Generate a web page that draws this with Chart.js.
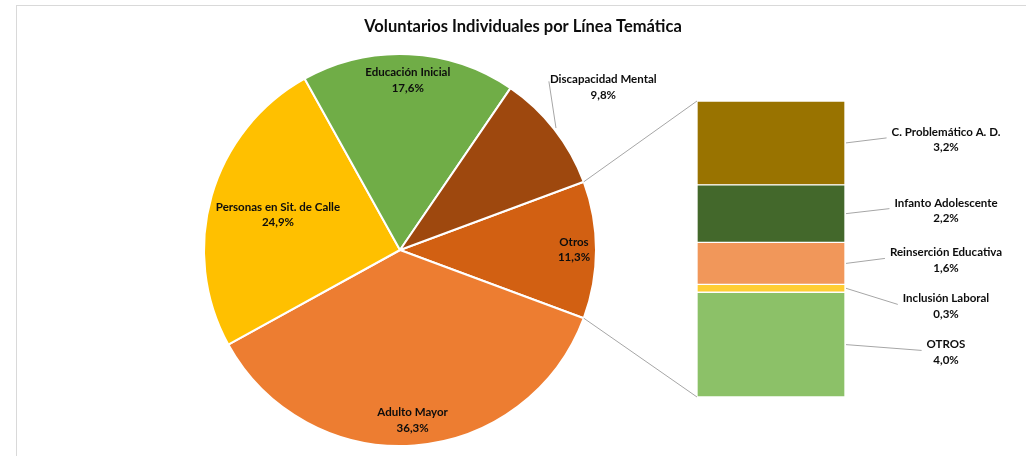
<!DOCTYPE html>
<html>
<head>
<meta charset="utf-8">
<script src="https://cdn.jsdelivr.net/npm/chart.js@4.4.0/dist/chart.umd.min.js"></script>
<style>
  html, body { margin: 0; padding: 0; background: #fff; }
  body { width: 1026px; height: 456px; position: relative; overflow: hidden; }
  #frame { position: absolute; left: 16px; top: 5px; width: 1040px; height: 480px; border: 1px solid #d9d9d9; }
  canvas { position: absolute; left: 0; top: 0; }
</style>
</head>
<body>
<div id="frame"></div>
<canvas id="pieChart" width="1026" height="456"></canvas>
<canvas id="barChart" width="1026" height="456"></canvas>
<script>
  let chartTitle = 'Voluntarios Individuales por Línea Temática';

  // pie, clockwise starting with the slice that is broken out into the bar
  let pieLabels = ['Otros', 'Adulto Mayor', 'Personas en Sit. de Calle', 'Educación Inicial', 'Discapacidad Mental'];
  let pieValues = [11.3, 36.3, 24.9, 17.6, 9.8];
  let pieColors = ['#D26012', '#ED7D31', '#FFC000', '#70AD47', '#9E480E'];

  // bar of "Otros", stacked bottom to top
  let barLabels = ['OTROS', 'Inclusión Laboral', 'Reinserción Educativa', 'Infanto Adolescente', 'C. Problemático A. D.'];
  let barValues = [4.0, 0.3, 1.6, 2.2, 3.2];
  let barColors = ['#8CC168', '#FFCD33', '#F1975A', '#43682B', '#997300'];

  let fontFamily = 'Lato, "Open Sans", sans-serif';
  let labelFont = 'bold 11.5px ' + fontFamily;
  let lineH = 15.5;
  let textColor = '#0d0d0d';
  let leaderColor = '#a6a6a6';

  function pct(v){
    return v.toFixed(1).replace('.', ',') + '%';
  }

  function drawLines(ctx, lines, cx, cy){
    lines.forEach((t, k) => ctx.fillText(t, cx, cy + (k - (lines.length - 1) / 2) * lineH));
  }

  /**************Pie: title, slice labels**************/
  let pieLabelPlugin = {
    id: 'pieLabels',
    afterDraw(chart){
      let ctx = chart.ctx;
      ctx.save();
      ctx.fillStyle = textColor;
      ctx.textAlign = 'center';
      ctx.textBaseline = 'middle';
      ctx.font = 'bold 16.5px ' + fontFamily;
      ctx.fillText(chartTitle, 523, 27);

      ctx.font = labelFont;
      let arcs = chart.getDatasetMeta(0).data;
      arcs.forEach((arc, i) => {
        let lines = [pieLabels[i], pct(pieValues[i])];
        let w = Math.max(...lines.map(t => ctx.measureText(t).width)) + 4;
        let h = lineH * lines.length;
        let mid = (arc.startAngle + arc.endAngle) / 2;
        let R = arc.outerRadius;
        let cx, cy;
        if (i == 4) {
          // small slice: label outside with a leader line
          cx = arc.x + Math.cos(mid) * (R + 62);
          cy = arc.y + Math.sin(mid) * (R + 62) - 4;
          ctx.strokeStyle = leaderColor;
          ctx.lineWidth = 1;
          ctx.beginPath();
          ctx.moveTo(arc.x + Math.cos(mid) * (R + 2), arc.y + Math.sin(mid) * (R + 2));
          ctx.lineTo(cx - w / 2 + 1, cy - lineH / 2 + 2);
          ctx.stroke();
        } else {
          // inside end: pull the label in until its box sits inside the circle
          for (let r = R; r > 0; r--) {
            cx = arc.x + Math.cos(mid) * r;
            cy = arc.y + Math.sin(mid) * r;
            let fits = [[-1,-1],[1,-1],[-1,1],[1,1]].every(([sx, sy]) =>
              Math.hypot(cx + sx * w / 2 - arc.x, cy + sy * h / 2 - arc.y) <= R - 3);
            if (fits) break;
          }
        }
        drawLines(ctx, lines, cx, cy);
      });
      ctx.restore();
    }
  };

  let pieTotal = pieValues.reduce((a, b) => a + b, 0);

  let pieChart = new Chart(document.getElementById('pieChart'), {
    type: 'pie',
    data: {
      labels: pieLabels,
      datasets: [{ data: pieValues, backgroundColor: pieColors, borderColor: '#fff', borderWidth: 2 }]
    },
    options: {
      responsive: false,
      animation: false,
      rotation: 90 - (pieValues[0] / pieTotal) * 180,
      radius: 196,
      layout: { padding: { left: 204, right: 430, top: 54, bottom: 10 } },
      plugins: { legend: { display: false }, tooltip: { enabled: false } }
    },
    plugins: [pieLabelPlugin]
  });

  /**************Bar: connectors and labels**************/
  let barLabelPlugin = {
    id: 'barLabels',
    afterDraw(chart){
      let ctx = chart.ctx;
      let els = chart.data.datasets.map((d, i) => chart.getDatasetMeta(i).data[0]);
      let left = els[0].x - els[0].width / 2;
      let right = els[0].x + els[0].width / 2;
      let top = els[els.length - 1].y;
      let bottom = els[0].base;

      ctx.save();
      ctx.strokeStyle = leaderColor;
      ctx.lineWidth = 1;

      // lines from the broken-out slice to the bar
      let arc = pieChart.getDatasetMeta(0).data[0];
      let R = arc.outerRadius;
      ctx.beginPath();
      ctx.moveTo(arc.x + Math.cos(arc.startAngle) * R, arc.y + Math.sin(arc.startAngle) * R);
      ctx.lineTo(left, top);
      ctx.moveTo(arc.x + Math.cos(arc.endAngle) * R, arc.y + Math.sin(arc.endAngle) * R);
      ctx.lineTo(left, bottom);
      ctx.stroke();

      // labels top to bottom, pushed apart so they do not overlap
      ctx.font = labelFont;
      ctx.fillStyle = textColor;
      ctx.textAlign = 'center';
      ctx.textBaseline = 'middle';
      let prevY = -Infinity;
      let labelX = right + 101;
      for (let i = els.length - 1; i >= 0; i--) {
        let mid = (els[i].y + els[i].base) / 2;
        let ly = Math.max(mid - 3, prevY + 46);
        prevY = ly;
        let lines = [barLabels[i], pct(barValues[i])];
        let w = Math.max(...lines.map(t => ctx.measureText(t).width));
        ctx.beginPath();
        ctx.moveTo(right + 1, mid);
        ctx.lineTo(labelX - w / 2 - 5, ly - 2);
        ctx.stroke();
        drawLines(ctx, lines, labelX, ly);
      }
      ctx.restore();
    }
  };

  let barTotal = barValues.reduce((a, b) => a + b, 0);

  let barChart = new Chart(document.getElementById('barChart'), {
    type: 'bar',
    data: {
      labels: [pieLabels[0]],
      datasets: barLabels.map((l, i) => ({
        label: l,
        data: [barValues[i]],
        backgroundColor: barColors[i],
        borderColor: '#fff',
        borderWidth: 1,
        borderSkipped: false,
        barPercentage: 1,
        categoryPercentage: 1
      }))
    },
    options: {
      responsive: false,
      animation: false,
      layout: { padding: { left: 697, right: 181, top: 101, bottom: 59 } },
      scales: {
        x: { stacked: true, display: false },
        y: { stacked: true, display: false, min: 0, max: barTotal }
      },
      plugins: { legend: { display: false }, tooltip: { enabled: false } }
    },
    plugins: [barLabelPlugin]
  });
</script>
</body>
</html>
